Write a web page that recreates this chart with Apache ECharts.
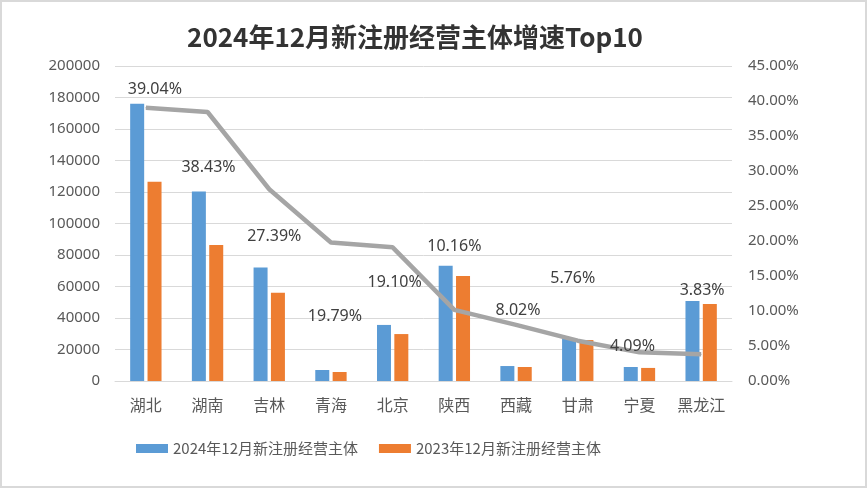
<!DOCTYPE html>
<html>
<head>
<meta charset="utf-8">
<script src="https://cdn.jsdelivr.net/npm/echarts@6/dist/echarts.min.js"></script>
<style>
html,body{margin:0;padding:0;background:#fff;}
#chart{width:867px;height:488px;}
</style>
</head>
<body>
<div id="chart"></div>
<script>
const categories = ['湖北','湖南','吉林','青海','北京','陕西','西藏','甘肃','宁夏','黑龙江'];
const new2024 = [176000, 120300, 72000, 7000, 35600, 73200, 9500, 27100, 8900, 50800];
const new2023 = [126500, 86300, 56000, 5700, 29800, 66700, 8900, 26000, 8300, 48900];
const growthRate = [39.04, 38.43, 27.39, 19.79, 19.10, 10.16, 8.02, 5.76, 4.09, 3.83];
const leftTicks = {min: 0, max: 200000, interval: 20000};
const rightTicks = {min: 0, max: 45, interval: 5};
const seriesNames = ['2024年12月新注册经营主体', '2023年12月新注册经营主体', '增速'];
const titleText = '2024年12月新注册经营主体增速Top10';

// label placement (style only)
const labelOffsets = [[9,-18],[1,55],[5,47],[4,74],[2,35],[0,-63],[2,-14],[-5,-62],[-7,-6],[1,-64]];

const FONT = '"Noto Sans", "Noto Sans CJK SC", sans-serif';
const chart = echarts.init(document.getElementById('chart'));
chart.setOption({
  animation: false,
  backgroundColor: '#fff',
  textStyle: {fontFamily: FONT},
  graphic: [{
    type: 'rect', shape: {x: 1, y: 1, width: 865, height: 486},
    style: {fill: 'none', stroke: '#d9d9d9', lineWidth: 2}, silent: true, z: 100
  }],
  title: {
    text: titleText,
    left: 410, top: 19, textAlign: 'center',
    textStyle: {fontFamily: '"Noto Sans CJK SC", sans-serif', fontSize: 26, fontWeight: 'bold', color: '#333333'}
  },
  legend: {
    data: [seriesNames[0], seriesNames[1]],
    left: 131, top: 436,
    itemWidth: 32, itemHeight: 9, itemGap: 21,
    icon: 'rect',
    textStyle: {fontFamily: '"Noto Sans CJK SC", sans-serif', fontSize: 15, color: '#595959'}
  },
  grid: {left: 115, right: 135, top: 66, bottom: 107, containLabel: false},
  xAxis: {
    type: 'category',
    data: categories,
    axisLine: {show: true, lineStyle: {color: '#d9d9d9', width: 1}},
    axisTick: {show: false},
    axisLabel: {fontFamily: '"Noto Sans CJK SC", sans-serif', fontSize: 16, color: '#595959', margin: 16, interval: 0}
  },
  yAxis: [{
    type: 'value',
    min: leftTicks.min, max: leftTicks.max, interval: leftTicks.interval,
    axisLine: {show: false}, axisTick: {show: false},
    splitLine: {lineStyle: {color: '#d9d9d9', width: 1}},
    axisLabel: {fontSize: 15, color: '#595959', margin: 15, formatter: v => String(v)}
  }, {
    type: 'value',
    min: rightTicks.min, max: rightTicks.max, interval: rightTicks.interval,
    axisLine: {show: false}, axisTick: {show: false},
    splitLine: {show: false},
    axisLabel: {fontSize: 15, color: '#595959', margin: 16, formatter: v => v.toFixed(2) + '%'}
  }],
  series: [{
    name: seriesNames[0], type: 'bar', data: new2024,
    barWidth: 14, barGap: '24%',
    itemStyle: {color: '#5b9bd5'}
  }, {
    name: seriesNames[1], type: 'bar', data: new2023,
    barWidth: 14,
    itemStyle: {color: '#ed7d31'}
  }, {
    name: seriesNames[2], type: 'line', yAxisIndex: 1,
    data: growthRate.map((v, i) => ({value: v, label: {offset: labelOffsets[i]}})),
    symbol: 'circle', symbolSize: 1, showSymbol: true,
    lineStyle: {color: '#a5a5a5', width: 4.5},
    itemStyle: {color: '#a5a5a5'},
    label: {show: true, position: 'inside', fontSize: 16, color: '#404040', formatter: p => p.value.toFixed(2) + '%'},
    z: 5
  }]
});
</script>
</body>
</html>
